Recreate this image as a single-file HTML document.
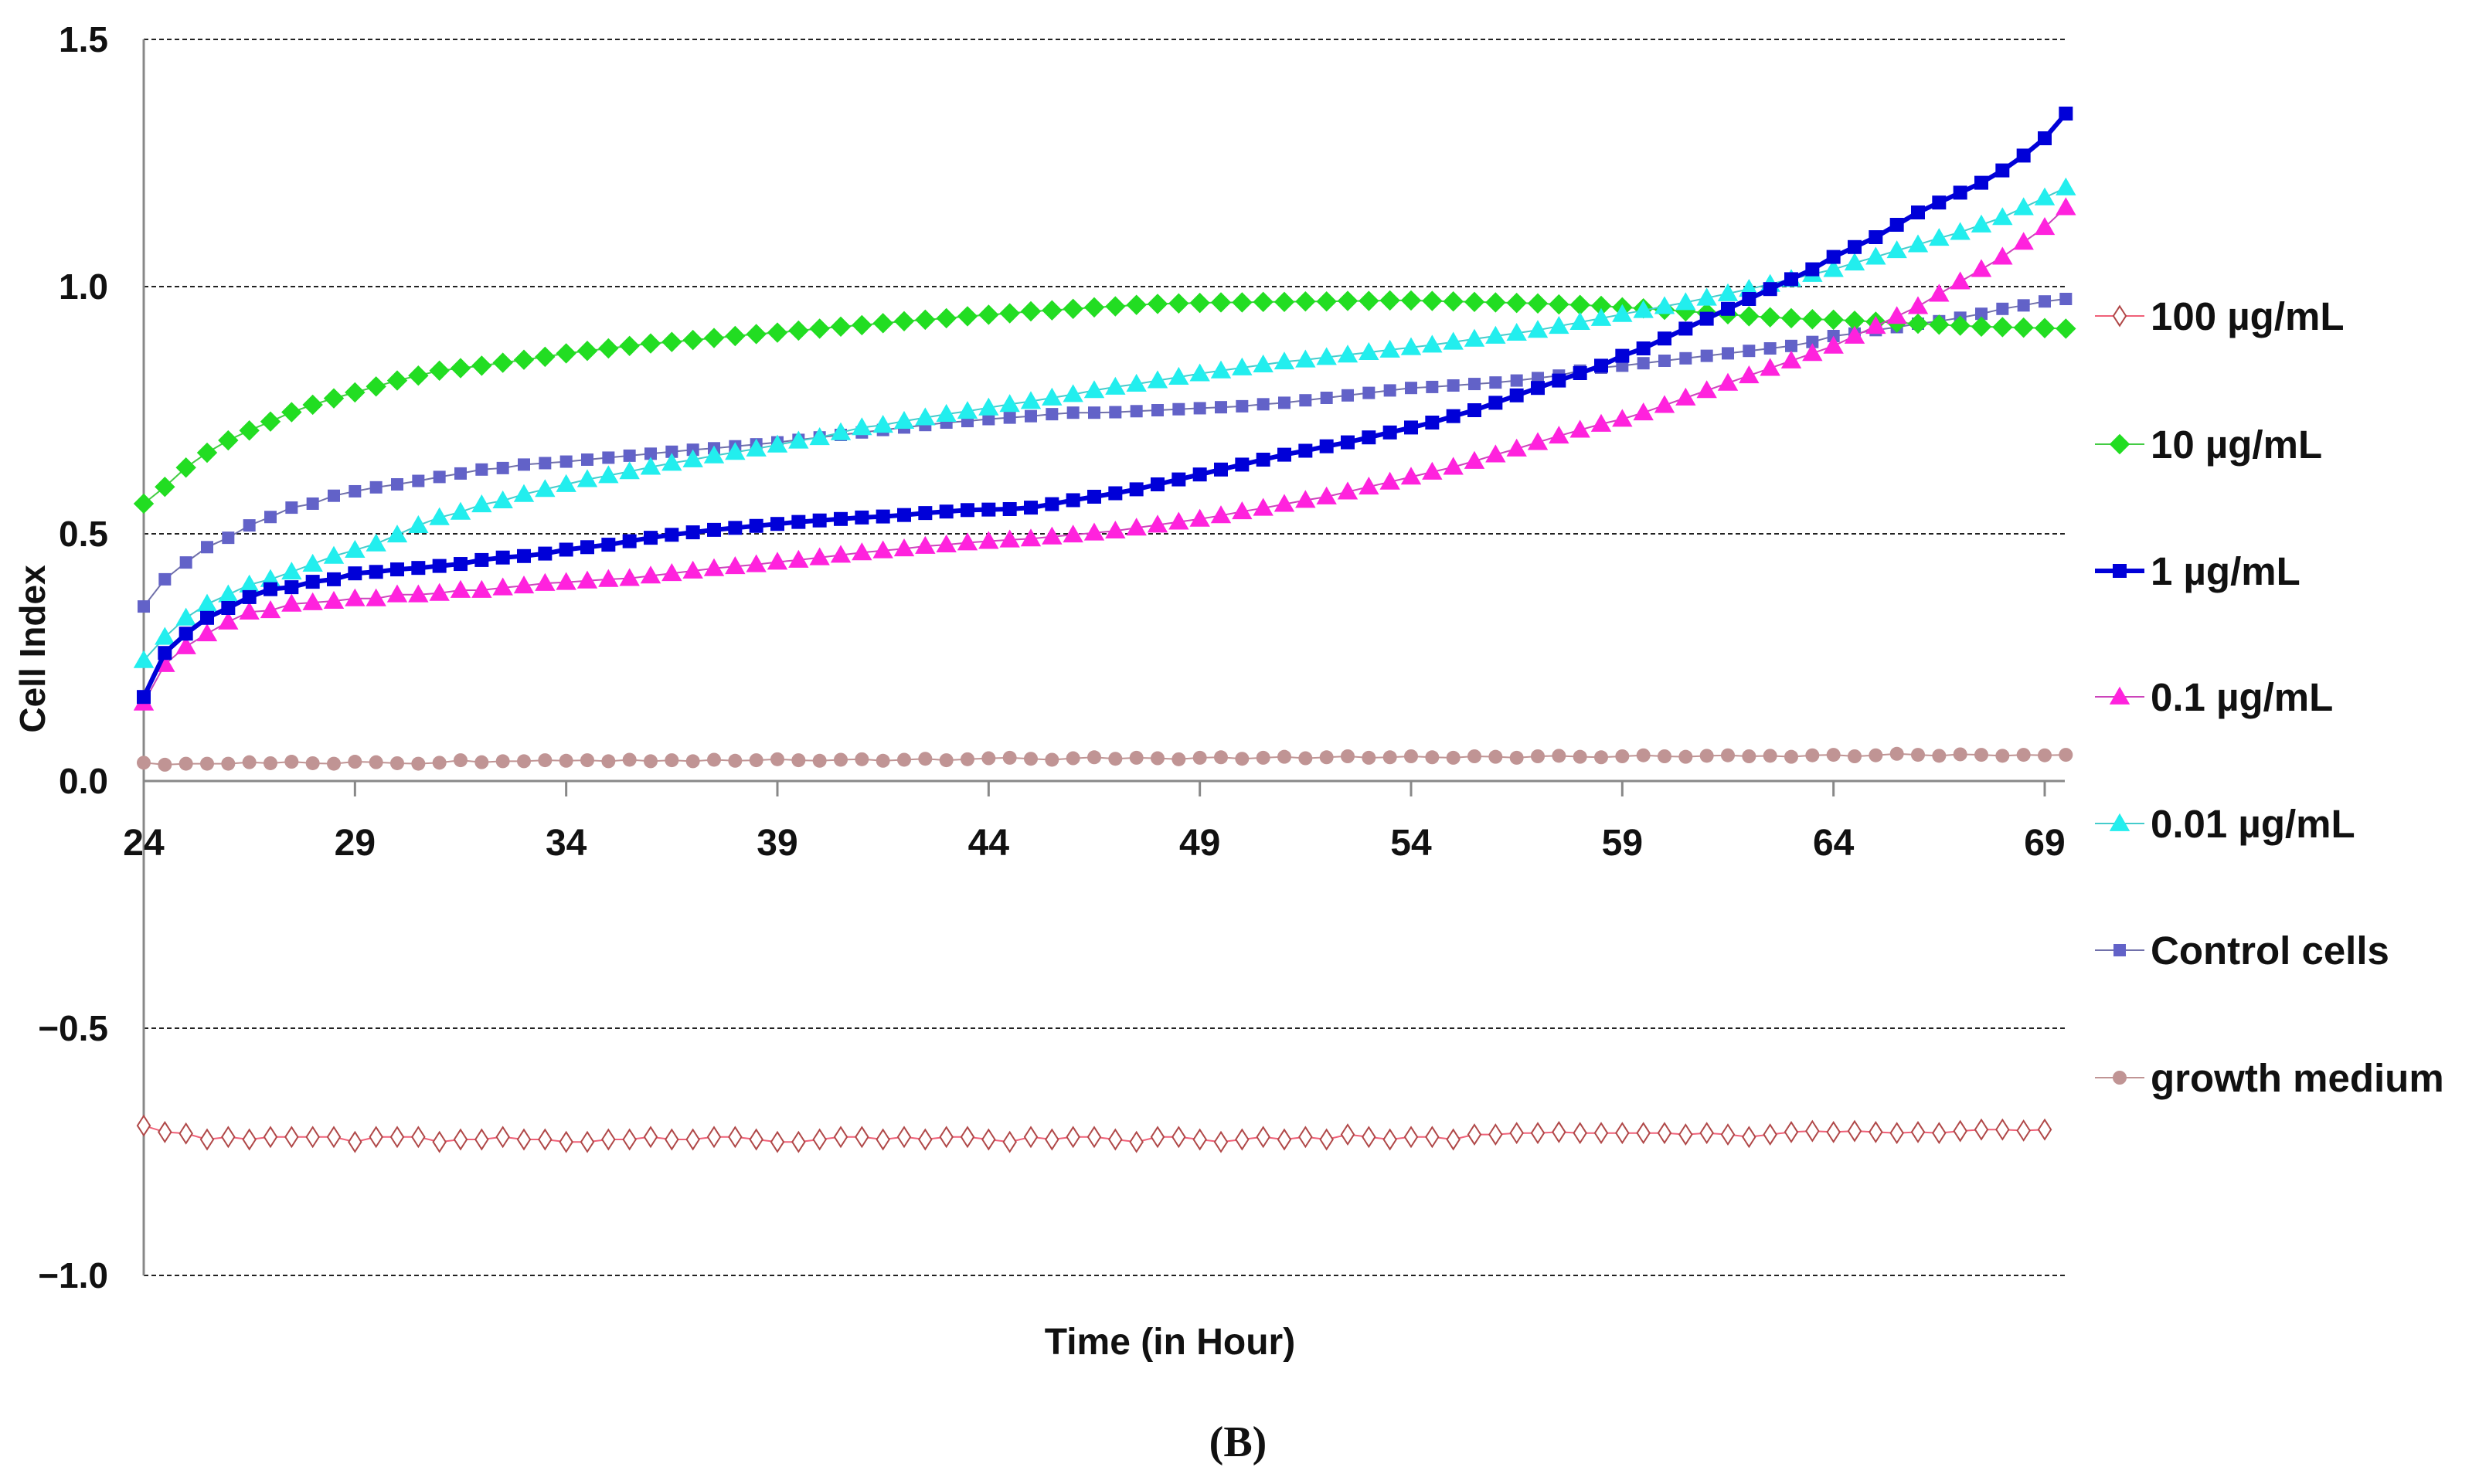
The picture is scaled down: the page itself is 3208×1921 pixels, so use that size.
<!DOCTYPE html>
<html><head><meta charset="utf-8"><style>
html,body{margin:0;padding:0;background:#fff;}
svg{display:block;}
text{font-family:"Liberation Sans",sans-serif;font-weight:bold;fill:#111;}
</style></head><body>
<svg id="chart" width="3208" height="1921" viewBox="0 0 3208 1921" xmlns="http://www.w3.org/2000/svg">
<rect width="3208" height="1921" fill="#fff"/>
<g id="grid"></g>
<g id="axes"></g>
<g id="series"></g>
<g id="legend"></g>
<text x="0" y="0" transform="translate(58,840) rotate(-90)" text-anchor="middle" font-size="46" style="font-family:'Liberation Sans Narrow','Liberation Sans',sans-serif">Cell Index</text>
<text x="1514" y="1753" text-anchor="middle" font-size="48">Time (in Hour)</text>
<text x="1602" y="1885" text-anchor="middle" font-size="56" style="font-family:'Liberation Serif',serif">(B)</text>
</svg>
<script>
const yTicks=[1.5,1.0,0.5,0.0,-0.5,-1.0];
const yTickLabels=["1.5","1.0","0.5","0.0","\u22120.5","\u22121.0"];
const xTicks=[24,29,34,39,44,49,54,59,64,69];
const seriesNames=["100 µg/mL","10 µg/mL","1 µg/mL","0.1 µg/mL","0.01 µg/mL","Control cells","growth medium"];
const v100=[-0.697,-0.71,-0.713,-0.725,-0.72,-0.725,-0.72,-0.72,-0.72,-0.72,-0.73,-0.72,-0.72,-0.72,-0.73,-0.725,-0.725,-0.72,-0.725,-0.725,-0.73,-0.73,-0.725,-0.725,-0.72,-0.725,-0.725,-0.72,-0.72,-0.725,-0.73,-0.73,-0.725,-0.72,-0.72,-0.725,-0.72,-0.725,-0.72,-0.72,-0.725,-0.73,-0.72,-0.725,-0.72,-0.72,-0.725,-0.73,-0.72,-0.72,-0.725,-0.73,-0.725,-0.72,-0.725,-0.72,-0.725,-0.715,-0.72,-0.725,-0.72,-0.72,-0.725,-0.715,-0.715,-0.712,-0.712,-0.71,-0.712,-0.712,-0.712,-0.712,-0.712,-0.715,-0.712,-0.715,-0.72,-0.715,-0.71,-0.708,-0.71,-0.708,-0.71,-0.712,-0.71,-0.712,-0.708,-0.705,-0.705,-0.707,-0.705];
const v10=[0.561,0.595,0.634,0.664,0.689,0.709,0.727,0.746,0.761,0.774,0.786,0.798,0.81,0.82,0.83,0.835,0.84,0.846,0.852,0.858,0.865,0.87,0.875,0.88,0.885,0.888,0.892,0.896,0.9,0.904,0.907,0.911,0.915,0.919,0.922,0.926,0.93,0.933,0.936,0.94,0.943,0.946,0.95,0.952,0.955,0.958,0.96,0.963,0.965,0.966,0.967,0.968,0.968,0.969,0.969,0.97,0.97,0.971,0.971,0.972,0.972,0.971,0.97,0.969,0.968,0.967,0.966,0.964,0.963,0.961,0.958,0.956,0.953,0.95,0.947,0.944,0.94,0.938,0.936,0.934,0.933,0.931,0.929,0.927,0.925,0.923,0.921,0.919,0.918,0.917,0.916,0.915];
const v1=[0.170,0.259,0.298,0.330,0.350,0.372,0.388,0.392,0.403,0.408,0.420,0.423,0.428,0.431,0.435,0.439,0.447,0.452,0.455,0.46,0.468,0.473,0.478,0.485,0.492,0.498,0.503,0.508,0.512,0.516,0.52,0.524,0.527,0.53,0.533,0.535,0.538,0.542,0.545,0.548,0.549,0.55,0.553,0.56,0.568,0.575,0.582,0.59,0.6,0.61,0.62,0.63,0.64,0.65,0.66,0.668,0.677,0.685,0.695,0.705,0.715,0.725,0.738,0.75,0.765,0.78,0.795,0.81,0.825,0.84,0.86,0.875,0.895,0.915,0.935,0.955,0.975,0.995,1.015,1.035,1.06,1.08,1.1,1.125,1.15,1.17,1.19,1.21,1.235,1.265,1.3,1.35];
const v01=[0.158,0.236,0.272,0.298,0.322,0.342,0.345,0.358,0.361,0.364,0.369,0.369,0.377,0.377,0.380,0.386,0.386,0.391,0.395,0.4,0.402,0.405,0.408,0.41,0.415,0.42,0.425,0.43,0.434,0.438,0.443,0.447,0.452,0.457,0.462,0.466,0.47,0.475,0.478,0.482,0.485,0.488,0.49,0.494,0.498,0.502,0.506,0.512,0.518,0.524,0.53,0.537,0.545,0.552,0.56,0.568,0.575,0.585,0.595,0.605,0.615,0.625,0.635,0.647,0.66,0.672,0.685,0.698,0.71,0.722,0.732,0.745,0.76,0.775,0.79,0.805,0.82,0.835,0.85,0.865,0.88,0.9,0.92,0.94,0.96,0.985,1.01,1.035,1.06,1.09,1.12,1.16];
const v001=[0.244,0.291,0.330,0.358,0.377,0.397,0.408,0.423,0.439,0.455,0.467,0.48,0.498,0.517,0.533,0.544,0.559,0.567,0.58,0.59,0.60,0.61,0.618,0.626,0.635,0.643,0.65,0.658,0.665,0.672,0.68,0.688,0.695,0.705,0.715,0.72,0.728,0.735,0.742,0.748,0.755,0.762,0.768,0.775,0.782,0.79,0.797,0.803,0.81,0.817,0.824,0.83,0.836,0.842,0.848,0.852,0.857,0.862,0.867,0.872,0.877,0.882,0.888,0.894,0.9,0.906,0.912,0.92,0.928,0.936,0.944,0.952,0.96,0.968,0.977,0.986,0.995,1.005,1.015,1.025,1.035,1.048,1.06,1.073,1.085,1.098,1.11,1.125,1.14,1.16,1.18,1.2];
const vCtrl=[0.353,0.408,0.442,0.473,0.492,0.517,0.534,0.553,0.561,0.577,0.586,0.594,0.6,0.607,0.615,0.622,0.63,0.633,0.64,0.643,0.646,0.65,0.654,0.658,0.662,0.666,0.67,0.673,0.677,0.681,0.685,0.69,0.695,0.7,0.705,0.71,0.715,0.72,0.725,0.728,0.732,0.735,0.738,0.742,0.745,0.745,0.746,0.748,0.75,0.752,0.754,0.756,0.758,0.762,0.765,0.77,0.775,0.78,0.785,0.79,0.795,0.797,0.8,0.803,0.806,0.81,0.815,0.82,0.83,0.836,0.84,0.845,0.85,0.855,0.86,0.865,0.87,0.875,0.88,0.888,0.9,0.905,0.912,0.918,0.925,0.93,0.937,0.945,0.955,0.962,0.97,0.975];
const vMed=[0.037,0.033,0.035,0.035,0.035,0.038,0.036,0.039,0.036,0.035,0.039,0.038,0.036,0.035,0.037,0.042,0.038,0.04,0.04,0.042,0.041,0.042,0.04,0.043,0.04,0.042,0.04,0.043,0.041,0.042,0.044,0.042,0.041,0.043,0.044,0.041,0.043,0.045,0.042,0.044,0.046,0.047,0.045,0.043,0.046,0.048,0.045,0.047,0.046,0.044,0.047,0.048,0.045,0.047,0.049,0.046,0.048,0.05,0.047,0.048,0.05,0.048,0.047,0.05,0.049,0.047,0.05,0.051,0.049,0.048,0.05,0.052,0.05,0.049,0.051,0.052,0.05,0.051,0.049,0.052,0.053,0.05,0.052,0.055,0.053,0.051,0.054,0.053,0.051,0.053,0.052,0.053];

const NS="http://www.w3.org/2000/svg";
const X0=186,X1=2672,YTOP=51,YBOT=1651;
function xs(t){return 186+(t-24)*(2646-186)/45;}
function ys(v){return 1011-v*640;}
function mk(tag,attrs,parent){const e=document.createElementNS(NS,tag);for(const k in attrs)e.setAttribute(k,attrs[k]);parent.appendChild(e);return e;}
const grid=document.getElementById('grid'),axes=document.getElementById('axes'),ser=document.getElementById('series'),leg=document.getElementById('legend');

yTicks.forEach((v,i)=>{
  if(v!==0){const l=mk('line',{x1:X0,x2:X1,y1:ys(v),y2:ys(v),stroke:'#222','stroke-width':2,'stroke-dasharray':'6,4'},grid);
  
  }
  const t=mk('text',{x:140,y:ys(v)+16,'text-anchor':'end','font-size':46},axes);t.textContent=yTickLabels[i];
  
  
});
let a=mk('line',{x1:X0,x2:X0,y1:YTOP,y2:YBOT,stroke:'#888','stroke-width':3},axes);


a=mk('line',{x1:X0,x2:X1,y1:ys(0),y2:ys(0),stroke:'#888','stroke-width':3},axes);


xTicks.forEach(t=>{
  const tk=mk('line',{x1:xs(t),x2:xs(t),y1:ys(0),y2:ys(0)+20,stroke:'#888','stroke-width':3},axes);
  
  
  const l=mk('text',{x:xs(t),y:1107,'text-anchor':'middle','font-size':48},axes);l.textContent=String(t);
  
  
});

function marker(shape,x,y,color,parent,sz){
  let e;
  if(shape==='square')e=mk('rect',{x:x-sz/2,y:y-sz/2,width:sz,height:sz,fill:color},parent);
  else if(shape==='diamond')e=mk('polygon',{points:`${x},${y-sz*0.6} ${x+sz*0.6},${y} ${x},${y+sz*0.6} ${x-sz*0.6},${y}`,fill:color},parent);
  else if(shape==='hdiamond')e=mk('polygon',{points:`${x},${y-sz*0.7} ${x+sz*0.45},${y} ${x},${y+sz*0.7} ${x-sz*0.45},${y}`,fill:'#fff',stroke:color,'stroke-width':2},parent);
  else if(shape==='triangle')e=mk('polygon',{points:`${x},${y-sz*0.6} ${x+sz*0.6},${y+sz*0.45} ${x-sz*0.6},${y+sz*0.45}`,fill:color},parent);
  else e=mk('circle',{cx:x,cy:y,r:sz/2,fill:color},parent);
  return e;
}
const defs=[
 {vals:v100,shape:'hdiamond',mc:'#b04848',lc:'#f06078',lw:2,sz:18,name:'series-100'},
 {vals:v10,shape:'diamond',mc:'#22dd22',lc:'#44cc44',lw:2,sz:22,name:'series-10'},
 {vals:v1,shape:'square',mc:'#0000d8',lc:'#0000d8',lw:6,sz:18,name:'series-1'},
 {vals:v01,shape:'triangle',mc:'#ff22dd',lc:'#cc44bb',lw:2,sz:22,name:'series-0-1'},
 {vals:v001,shape:'triangle',mc:'#22eeee',lc:'#44cccc',lw:2,sz:22,name:'series-0-01'},
 {vals:vCtrl,shape:'square',mc:'#6262c8',lc:'#7070aa',lw:2,sz:16,name:'series-control'},
 {vals:vMed,shape:'circle',mc:'#c09494',lc:'#c09494',lw:2,sz:18,name:'series-growth-medium'}
];
const drawOrder=[6,0,5,1,4,3,2];
drawOrder.forEach(i=>{
  const d=defs[i];
  const g=mk('g',{},ser);
  
  
  const pts=d.vals.map((v,j)=>xs(24+j*0.5).toFixed(1)+','+ys(v).toFixed(1)).join(' ');
  const pl=mk('polyline',{points:pts,fill:'none',stroke:d.lc,'stroke-width':d.lw},g);
  
  
  d.vals.forEach((v,j)=>{
    const m=marker(d.shape,xs(24+j*0.5),ys(v),d.mc,g,d.sz);
    
    
  });
});
const legY=[409,575,739,902,1066,1230,1395];
defs.forEach((d,i)=>{
  const g=mk('g',{},leg);
  
  
  const y=legY[i];
  mk('line',{x1:2711,x2:2775,y1:y,y2:y,stroke:d.lc,'stroke-width':d.lw===6?6:2},g);
  marker(d.shape,2743,y,d.mc,g,d.sz);
  const t=mk('text',{x:2783,y:y+18,'font-size':51},g);t.textContent=seriesNames[i];
  
  
});
</script>
</body></html>
